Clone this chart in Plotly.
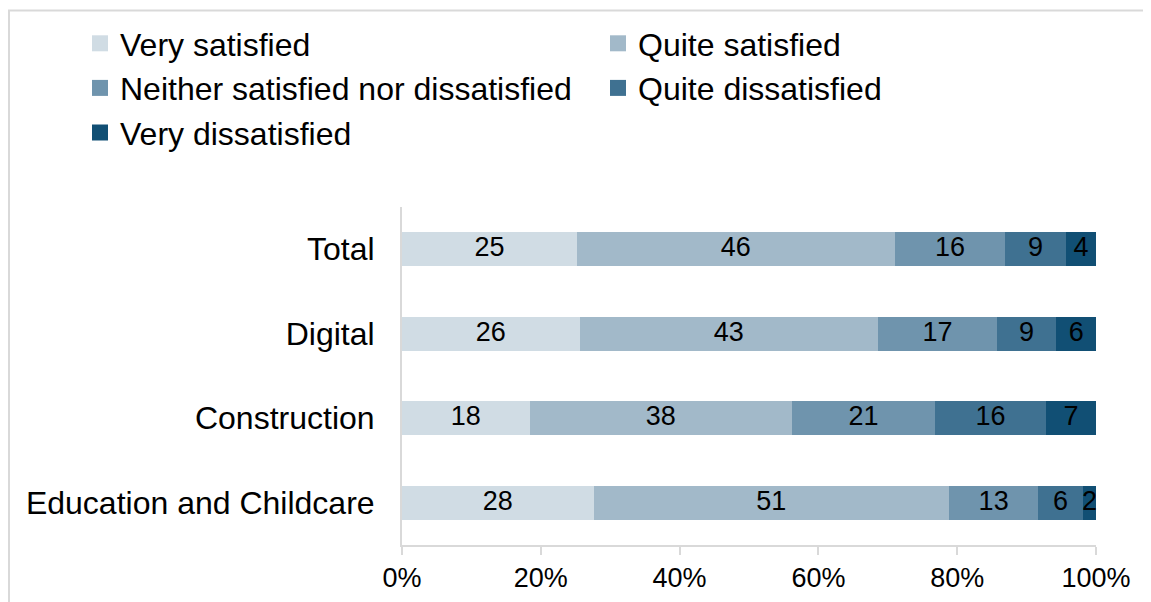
import plotly.graph_objects as go

categories = ["Total", "Digital", "Construction", "Education and Childcare"]
series_names = ["Very satisfied", "Quite satisfied", "Neither satisfied nor dissatisfied",
                "Quite dissatisfied", "Very dissatisfied"]
very_satisfied = [25.2, 25.6, 18.4, 27.6]
quite_satisfied = [45.8, 43.0, 37.8, 51.2]
neither = [15.9, 17.1, 20.6, 12.9]
quite_dissatisfied = [8.8, 8.6, 16.0, 6.4]
very_dissatisfied = [4.3, 5.7, 7.2, 1.9]
colors = ["#D0DCE4", "#A2B9C9", "#6F94AD", "#3F7191", "#114F74"]
tick_vals = [0, 20, 40, 60, 80, 100]
tick_text = ["0%", "20%", "40%", "60%", "80%", "100%"]

series = [very_satisfied, quite_satisfied, neither, quite_dissatisfied, very_dissatisfied]
legend_ids = ["legend", "legend2", "legend", "legend2", "legend"]

FONT = "Liberation Sans, Arial, sans-serif"
fig = go.Figure()

# stacked bars
for name, vals, col in zip(series_names, series, colors):
    fig.add_trace(go.Bar(
        y=categories, x=vals, name=name, orientation="h",
        marker=dict(color=col, line=dict(width=0)),
        showlegend=False, hoverinfo="skip",
    ))

# value labels centred in each segment
starts = [0.0] * len(categories)
for vals in series:
    mids = [s + v / 2 for s, v in zip(starts, vals)]
    fig.add_trace(go.Scatter(
        x=mids, y=categories, mode="text",
        text=[str(round(v)) for v in vals], textposition="middle center",
        textfont=dict(family=FONT, size=27, color="#000000"),
        showlegend=False, hoverinfo="skip", cliponaxis=False,
    ))
    starts = [s + v for s, v in zip(starts, vals)]

# legend entries (square swatches)
for name, col, lg in zip(series_names, colors, legend_ids):
    fig.add_trace(go.Scatter(
        x=[None], y=[None], mode="markers", name=name, legend=lg,
        marker=dict(symbol="square", size=17, color=col, line=dict(width=0)),
        showlegend=True, hoverinfo="skip",
    ))

W, H = 1151, 602
L, R, T, B = 394, 1151 - 1088, 199, 602 - 537
PW, PH = W - L - R, H - T - B
leg_common = dict(
    orientation="v", xref="container", yref="container",
    xanchor="left", yanchor="top",
    font=dict(family=FONT, size=32, color="#000000"),
    traceorder="normal", itemwidth=30, itemsizing="trace",
    bgcolor="rgba(0,0,0,0)",
)
fig.update_layout(
    width=W, height=H, barmode="stack", bargap=0.6,
    margin=dict(l=L, r=R, t=T, b=B, autoexpand=False),
    paper_bgcolor="white", plot_bgcolor="white",
    font=dict(family=FONT, color="#000000"),
    legend=dict(x=72 / W, y=1 - 8 / H, **leg_common),
    legend2=dict(x=590 / W, y=1 - 8 / H, **leg_common),
    xaxis=dict(
        range=[0, 100], tickvals=tick_vals, ticktext=tick_text,
        showgrid=False, zeroline=False, showline=True, linecolor="#D9D9D9", linewidth=2,
        ticks="outside", ticklen=8, tickcolor="#D9D9D9", tickwidth=2,
        tickfont=dict(family=FONT, size=27, color="#000000"), fixedrange=True,
    ),
    yaxis=dict(
        autorange="reversed", showgrid=False, zeroline=False,
        showline=True, linecolor="#D9D9D9", linewidth=2, ticks="",
        ticklabelstandoff=19,
        tickfont=dict(family=FONT, size=32, color="#000000"), fixedrange=True,
    ),
    shapes=[dict(type="rect", xref="paper", yref="paper",
                 x0=(1 - L) / PW, x1=(1300 - L) / PW,
                 y0=-(800 - (H - B)) / PH, y1=1 + (T - 2.5) / PH,
                 line=dict(color="#D9D9D9", width=2), layer="below")],
)
fig.write_html("out.html")
